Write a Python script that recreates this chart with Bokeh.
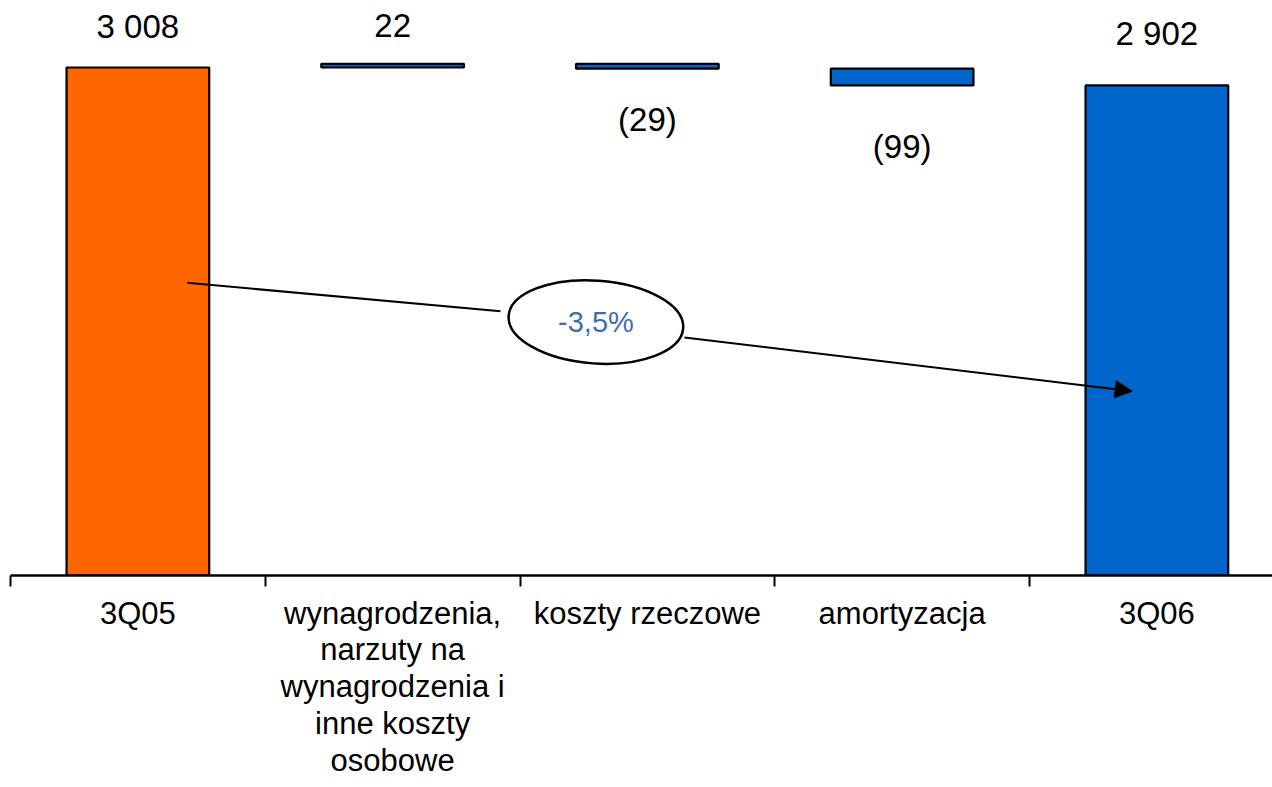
from bokeh.plotting import figure
from bokeh.models import Range1d, FixedTicker, Arrow, NormalHead, ColumnDataSource
from bokeh.core.properties import value
from bokeh.embed import file_html
from bokeh.resources import INLINE

# ---- data ----
categories = ["3Q05",
              "wynagrodzenia,\nnarzuty na\nwynagrodzenia i\ninne koszty\nosobowe",
              "koszty rzeczowe",
              "amortyzacja",
              "3Q06"]
start_value = 3008
changes = [22, -29, -99]
end_value = 2902
change_label = "-3,5%"

# ---- waterfall geometry from data ----
centers = [i + 0.5 for i in range(len(categories))]
bottoms, tops, colors = [], [], []
bottoms.append(0); tops.append(start_value); colors.append("#FF6600")
running = start_value
for c in changes:
    nxt = running + c
    bottoms.append(min(running, nxt)); tops.append(max(running, nxt))
    colors.append("#0066CC")
    running = nxt
bottoms.append(0); tops.append(end_value); colors.append("#0066CC")

def fmt(v):
    s = f"{abs(v):,}".replace(",", " ")
    return f"({s})" if v < 0 else s

all_vals = [start_value] + changes + [end_value]
labels = [fmt(v) for v in all_vals]
label_y = [tops[0], tops[1], bottoms[2], bottoms[3], tops[4]]
label_off = [-41, -38, 51, 61, -52]   # pixel offsets (screen, down positive)

PX_PER_UNIT = 508 / 3008.0
FRAME_H = 567
FRAME_W = 1262
CAT_PX = 254.75

p = figure(frame_width=FRAME_W, frame_height=FRAME_H,
           x_range=Range1d(0, FRAME_W / CAT_PX),
           y_range=Range1d(0, FRAME_H / PX_PER_UNIT),
           output_backend="svg", toolbar_location=None,
           y_axis_location=None,
           min_border_left=10, min_border_right=0, min_border_top=8, min_border_bottom=0)
p.outline_line_color = None
p.xgrid.visible = False
p.ygrid.visible = False
p.background_fill_color = "white"
p.border_fill_color = "white"

src = ColumnDataSource(dict(x=centers, bottom=bottoms, top=tops, color=colors))
p.vbar(x="x", bottom="bottom", top="top", width=0.56, fill_color="color",
       line_color="black", line_width=2.2, source=src)

lsrc = ColumnDataSource(dict(x=centers, y=label_y, text=labels, off=label_off))
p.text(x="x", y="y", text="text", y_offset="off", source=lsrc,
       text_align="center", text_baseline="middle",
       text_font=value("Liberation Sans"), text_font_size="33px", text_color="black")

# axis
ax = p.xaxis[0]
ax.ticker = FixedTicker(ticks=centers, minor_ticks=list(range(len(categories) + 1)))
ax.major_label_overrides = {c: lab for c, lab in zip(centers, categories)}
ax.major_tick_out = 0
ax.major_tick_in = 0
ax.minor_tick_out = 11
ax.minor_tick_in = 0
ax.minor_tick_line_color = "black"
ax.minor_tick_line_width = 2
ax.axis_line_color = "black"
ax.axis_line_width = 2.5
ax.major_label_text_font = "Liberation Sans"
ax.major_label_text_font_size = "31px"
ax.major_label_text_color = "black"
ax.major_label_text_line_height = 1.05
ax.major_label_standoff = 9

# change annotation
p.add_layout(Arrow(x_start=0.6936, y_start=1733, x_end=1.9234, y_end=1565,
                   end=None, line_color="black", line_width=2))
p.add_layout(Arrow(x_start=2.6457, y_start=1409, x_end=4.403, y_end=1091,
                   end=NormalHead(size=17, fill_color="black", line_color="black"),
                   line_color="black", line_width=2))
p.ellipse(x=[2.298], y=[1501], width=175, height=83, width_units="screen",
          height_units="screen", angle=-0.07, fill_color="white",
          line_color="black", line_width=2.5)
p.text(x=[2.298], y=[1501], text=[change_label], text_align="center",
       text_baseline="middle", text_font=value("Liberation Sans"),
       text_font_size="29px", text_color="#3F6EA8")

open("out.html", "w").write(file_html(p, INLINE))
